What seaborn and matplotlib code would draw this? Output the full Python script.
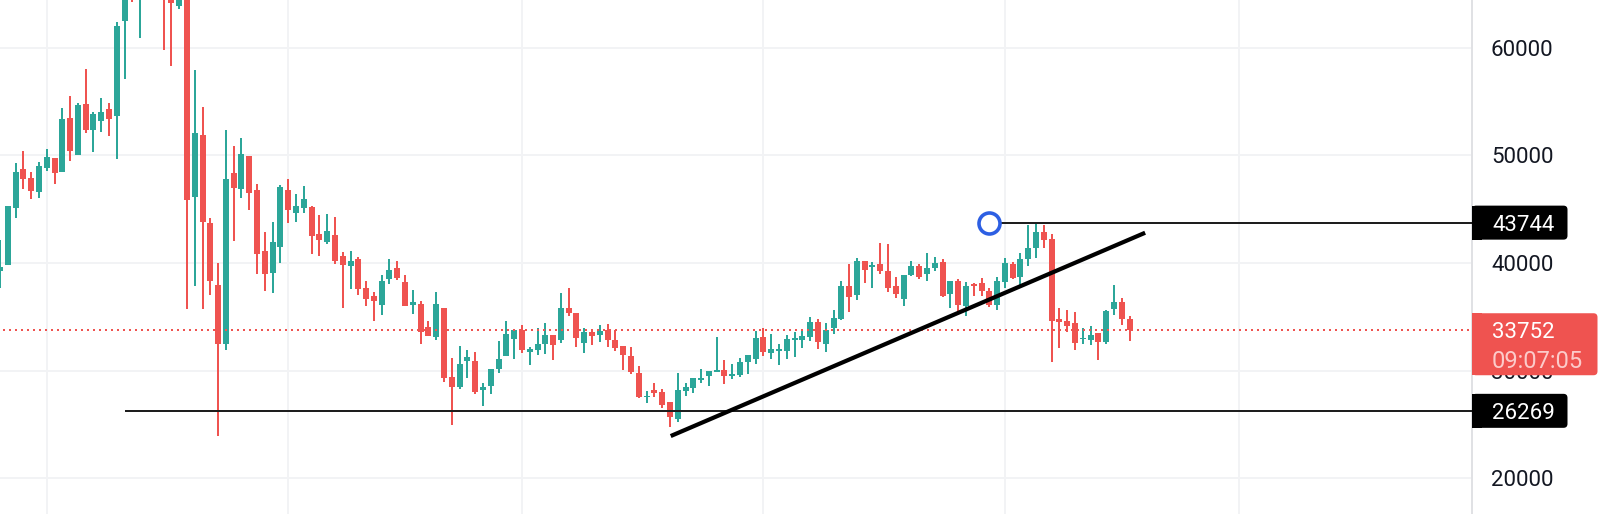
import numpy as np
import pandas as pd
import matplotlib
matplotlib.use("Agg")
import matplotlib.pyplot as plt
from matplotlib.patches import FancyBboxPatch, Rectangle
from matplotlib.transforms import IdentityTransform
import seaborn as sns

opens = [39250,39805,45100,48720,47880,46580,48810,49740,48440,53450,50020,54750,52340,53180,54290,53640,62460,67000,65500,66500,
         67000,65500,66000,63850,65500,46120,51880,43700,37950,32470,48350,46860,49930,46770,41100,39060,41480,46770,44630,45100,
         45190,42680,41940,42590,40640,39710,40360,37670,36930,36090,38510,39530,38230,36090,36180,34050,33120,35810,29410,28480,
         30890,30890,28200,28570,30150,31360,32930,33770,31730,31910,32470,33310,32840,35810,35350,32560,33580,33310,33770,32840,
         32280,31360,29780,27550,28200,28010,27080,25510,28110,28380,29130,29500,29870,30060,29500,29590,30800,31080,33120,31630,
         31820,31820,32840,32840,33120,34510,32470,33960,34790,37860,37020,40180,39620,39900,39250,37860,36650,38880,39710,38970,
         39530,40080,37110,38320,36000,38040,38130,37390,36090,38230,39900,38690,40360,41380,42870,42220,34790,34610,34420,32930,
         32840,33490,32660,35720,36370,34790]
highs = [42130,45283,49280,50390,48440,49370,50580,49740,54380,55500,54850,58000,54010,55310,54850,62370,67000,68000,67000,68000,
         68500,67000,67000,66000,66000,57910,54480,44170,39990,52340,50850,51600,49930,47330,42870,43800,47230,47790,46400,47140,
         45280,44450,44540,44260,41010,41110,40550,38320,37300,38880,40360,40180,38880,37480,36460,34610,37300,35810,31170,32290,
         31910,31730,28850,30150,32750,34610,33860,34230,32190,33960,34420,33310,37210,37670,35350,33960,33860,34230,34330,33770,
         32280,32190,30430,28110,28850,28290,27080,29780,28850,29310,30150,29960,33120,30980,30610,31170,31450,33680,33960,33400,
         32470,33310,33580,33770,34980,34790,34420,35630,38320,39900,40460,40180,40080,41850,41760,38690,38880,40180,39900,40920,
         40550,40360,38320,38510,38230,38130,38600,37670,38690,40460,40080,40920,43520,43740,43520,42680,35810,35630,35440,33960,
         34140,33490,35630,37950,36740,35070]
lows = [37670,39805,44170,46860,45930,46030,48530,47330,48440,49460,50020,52060,50300,52150,51780,49650,57080,64220,60880,65000,
        64600,59770,58280,63580,35720,37860,35720,37020,23930,31910,42030,46030,44910,38970,37390,37210,39990,43710,43800,44630,
        40830,40640,41760,39900,35810,37580,37020,36000,34610,35160,38040,38410,36000,35260,32470,33210,32840,28940,24950,28290,
        29310,27830,26710,27830,29780,31360,31080,31640,30520,31450,31540,30980,32560,35070,32190,31630,32380,32660,32190,31820,
        30060,29680,27460,26990,27550,26530,24760,25230,27640,27920,28850,28570,29870,28760,29220,29410,29680,30610,31360,31080,
        30520,31080,31260,32100,32750,32010,31730,33400,34700,35440,36560,38130,37670,38970,37300,36740,36000,38780,38510,38320,
        39250,36830,35810,35440,35070,36930,36930,35910,35630,37670,38510,37670,39710,40460,41380,30800,32100,33580,31910,32470,
        32380,30980,32470,35160,34230,32750]
closes = [39620,45283,48440,47790,46680,49000,49830,48350,53360,50390,54660,52340,53830,54010,53360,62000,66000,66000,66500,67000,
          65500,65000,64130,65500,45840,52060,43800,38320,32470,47790,46950,50110,46490,40830,38970,41940,47050,44910,45280,45930,
          42500,42130,42960,40180,39810,40180,37580,36650,36460,38320,39340,38600,36000,36370,33580,33210,36180,29310,28480,30610,
          31260,28010,28480,30150,31080,33400,33770,31910,32010,32470,33310,32380,35810,35350,33030,33580,33210,33680,32840,32100,
          31450,29870,27550,27640,27920,26810,25690,28200,28480,29310,29310,29960,30060,29500,29680,30800,31450,33030,31730,32010,
          32010,32930,33030,33210,34510,32660,33770,34880,37860,36830,40180,39340,39810,39250,37670,37110,38880,39710,38690,39530,
          39990,36930,38320,36090,37860,37860,37390,36090,38320,39990,38600,40360,41380,42870,42130,34610,34510,34140,32560,33030,
          33310,32660,35530,36370,34790,33752]

# month-start candles that carry the vertical grid lines
month_starts = [6, 37, 67, 98, 129, 159]
price_ticks = [20000, 30000, 40000, 50000, 60000]
last_price = 33752
last_price_label = "33752"
countdown_label = "09:07:05"
support_level = 26269
resistance_level = 43744
support_from = 16
resistance_from = 127
trend_x = [86.1, 147.0]
trend_y = [23928, 42804]

W, H = 1608, 514
UP, DOWN = "#2CA699", "#EF5350"
GRID = "#F2F3F5"
px = 0.72  # points per pixel at dpi 100

sns.set_theme(style="white")
plt.rcParams["font.family"] = ["Roboto", "DejaVu Sans"]
plt.rcParams["lines.solid_capstyle"] = "butt"

n = len(opens)
idx = np.arange(n)
df = pd.DataFrame({"i": idx, "o": opens, "h": highs, "l": lows, "c": closes})
df["dir"] = np.where(df.c >= df.o, "up", "down")
wicks = df.melt(id_vars=["i", "dir"], value_vars=["h", "l"], value_name="price").sort_values(["i", "variable"])
bodies = df.melt(id_vars=["i", "dir"], value_vars=["o", "c"], value_name="price").sort_values(["i", "variable"])
palette = {"up": UP, "down": DOWN}

fig = plt.figure(figsize=(W / 100, H / 100), dpi=100, facecolor="white")
ax = fig.add_axes([0, 0, 1472 / W, 1])
ax.set_axisbelow(True)

sns.lineplot(data=wicks, x="i", y="price", hue="dir", units="i", estimator=None, sort=False,
             palette=palette, lw=2 * px, legend=False, ax=ax, zorder=3, solid_capstyle="butt")
sns.lineplot(data=bodies, x="i", y="price", hue="dir", units="i", estimator=None, sort=False,
             palette=palette, lw=6 * px, legend=False, ax=ax, zorder=3, solid_capstyle="butt")

ax.set_xlim(0.0, 1472 / 7.79)
ax.set_ylim(16690, 64415)

# dotted last-price line
sns.lineplot(x=[0.4, ax.get_xlim()[1]], y=[last_price, last_price], color=DOWN, lw=2 * px,
             linestyle=(0, (1, 2)), ax=ax, zorder=4, legend=False)

# drawn levels
xr = ax.get_xlim()[1]
sns.lineplot(x=[support_from, xr], y=[support_level] * 2, color="#1E1E1E", lw=2 * px, ax=ax, zorder=5)
sns.lineplot(x=[resistance_from, xr], y=[resistance_level] * 2, color="#1E1E1E", lw=2 * px, ax=ax, zorder=5)
sns.lineplot(x=trend_x, y=trend_y, color="black", lw=4.2 * px, ax=ax, zorder=6, sort=False)
ax.plot([resistance_from], [resistance_level], "o", ms=21 * px, mfc="white", mec="#2D5FE3", mew=3.6 * px, zorder=7)

ax.set_xlabel("")
ax.set_ylabel("")
ax.set_xticks(month_starts)
ax.set_yticks(price_ticks)
ax.set_yticklabels([str(t) for t in price_ticks])
ax.grid(True, color=GRID, lw=2 * px)
ax.yaxis.tick_right()
ax.tick_params(axis="x", length=0, labelbottom=False)
ax.tick_params(axis="y", length=0, pad=19 * px, labelsize=16, labelcolor="#131722")
for s in ["top", "left", "bottom"]:
    ax.spines[s].set_visible(False)
ax.spines["right"].set_color("#E0E1E4")
ax.spines["right"].set_linewidth(2 * px)

# price labels on the axis, in figure pixels
def y_px(price):
    return ax.transData.transform((0, price))[1]

def axis_box(yc, height, right, color):
    left = 1472
    r = 4
    fig.add_artist(FancyBboxPatch((left + r, yc - height / 2 + r), right - left - 2 * r, height - 2 * r,
                                  boxstyle=f"round,pad={r},rounding_size={r}", fc=color, ec="none",
                                  transform=IdentityTransform(), zorder=10))
    fig.add_artist(Rectangle((left, yc - height / 2), 10, height, fc=color, ec="none",
                             transform=IdentityTransform(), zorder=10))

def axis_text(yc, s, color, size=16):
    fig.text(1492 / W, yc / H, s, color=color, fontsize=size, ha="left", va="center_baseline", zorder=11)

for level in (resistance_level, support_level):
    yc = y_px(level)
    axis_box(yc, 34, 1567.5, "black")
    axis_text(yc, str(level), "white")

yc = y_px(last_price)
axis_box(yc - 14, 62, 1597.5, DOWN)
axis_text(yc, last_price_label, "white")
axis_text(yc - 29, countdown_label, "#FCCBCA", size=17)

fig.savefig("out.png", dpi=100, facecolor="white")
